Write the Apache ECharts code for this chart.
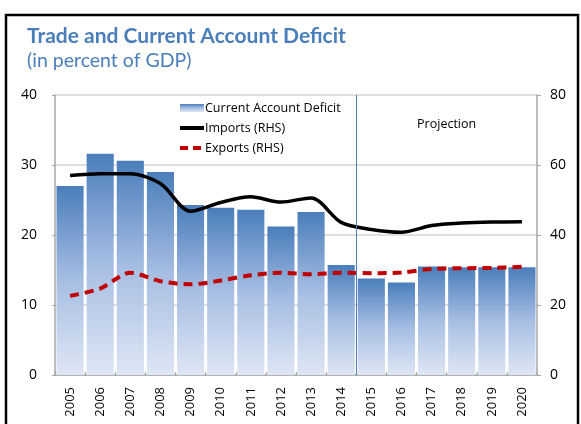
<!DOCTYPE html>
<html>
<head>
<meta charset="utf-8">
<script src="https://cdn.jsdelivr.net/npm/echarts@6/dist/echarts.min.js"></script>
<style>
  html, body { margin: 0; padding: 0; background: #fff; }
  #chart { width: 581px; height: 424px; }
</style>
</head>
<body>
<div id="chart"></div>
<script>
// data
const years = ['2005', '2006', '2007', '2008', '2009', '2010', '2011', '2012',
  '2013', '2014', '2015', '2016', '2017', '2018', '2019', '2020'];
const currentAccountDeficit = [27.0, 31.6, 30.6, 29.0, 24.3, 23.9, 23.6, 21.2,
  23.3, 15.7, 13.8, 13.2, 15.5, 15.4, 15.4, 15.4];
const importsRHS = [57.0, 57.5, 57.5, 54.7, 46.8, 49.3, 50.9, 49.4,
  50.6, 43.6, 41.6, 40.8, 42.7, 43.4, 43.7, 43.8];
const exportsRHS = [22.6, 24.7, 29.2, 26.8, 25.9, 27.0, 28.5, 29.2,
  28.8, 29.2, 29.1, 29.3, 30.3, 30.5, 30.6, 30.9];
const projectionFrom = '2015';
const projectionTo = '2020';

const font = '"Open Sans", "Noto Sans", sans-serif';
const titleColor = '#4a7ebb';

const chart = echarts.init(document.getElementById('chart'), null, { renderer: 'canvas' });

const barGradient = new echarts.graphic.LinearGradient(0, 0, 0, 1, [
  { offset: 0, color: '#4a7ebb' },
  { offset: 0.5, color: '#a7bee3' },
  { offset: 1, color: '#dee6f4' }
]);

// boundary between actual and projected years, in category units
const splitAt = years.indexOf(projectionFrom);

const option = {
  animation: false,
  backgroundColor: '#fff',
  graphic: [
    {
      type: 'rect',
      shape: { x: 6, y: 15, width: 572, height: 430 },
      style: { fill: 'none', stroke: '#000', lineWidth: 2.5 },
      silent: true
    }
  ],
  title: {
    text: 'Trade and Current Account Deficit',
    subtext: '(in percent of GDP)',
    left: 22,
    top: 21,
    itemGap: 4,
    textStyle: { fontFamily: 'Lato, sans-serif', fontWeight: 'bold', fontSize: 21, color: titleColor },
    subtextStyle: { fontFamily: 'Lato, sans-serif', fontSize: 19.5, color: titleColor }
  },
  legend: {
    orient: 'vertical',
    left: 178,
    top: 101,
    padding: 0,
    itemGap: 6,
    itemWidth: 24,
    itemHeight: 8,
    textStyle: { fontFamily: font, fontSize: 12.5, lineHeight: 14, color: '#000', padding: [0, 0, 0, -4] },
    data: [
      { name: 'Current Account Deficit', icon: 'rect' },
      { name: 'Imports (RHS)', itemStyle: { opacity: 0 }, lineStyle: { width: 4 } },
      { name: 'Exports (RHS)', itemStyle: { opacity: 0 }, lineStyle: { width: 4, type: [8, 5] } }
    ]
  },
  grid: { left: 55, right: 44, top: 95, bottom: 49 },
  xAxis: [
    {
      type: 'category',
      data: years,
      boundaryGap: true,
      axisLine: { lineStyle: { color: '#a6a6a6', width: 1.5 } },
      axisTick: { show: true, inside: true, length: 3, lineStyle: { color: '#a6a6a6' } },
      axisLabel: { rotate: 90, margin: 12, fontFamily: font, fontSize: 13, color: '#000' },
      splitLine: { show: false }
    },
    {
      // hidden helper axis spanning the category bands, used for the divider line
      type: 'value',
      min: 0,
      max: years.length,
      show: false
    }
  ],
  yAxis: [
    {
      type: 'value',
      min: 0, max: 40, interval: 10,
      axisLine: { show: true, lineStyle: { color: '#a6a6a6', width: 1.5 } },
      axisTick: { show: true, length: 3, lineStyle: { color: '#a6a6a6' } },
      axisLabel: { margin: 18, fontFamily: font, fontSize: 14, color: '#000' },
      splitLine: { lineStyle: { color: '#d4d4d4', width: 1.5 } }
    },
    {
      type: 'value',
      min: 0, max: 80, interval: 20,
      axisLine: { show: true, lineStyle: { color: '#a6a6a6', width: 1.5 } },
      axisTick: { show: true, length: 4, lineStyle: { color: '#a6a6a6' } },
      axisLabel: { margin: 13, fontFamily: font, fontSize: 14, color: '#000' },
      splitLine: { show: false }
    }
  ],
  series: [
    {
      name: 'Current Account Deficit',
      type: 'bar',
      data: currentAccountDeficit,
      barCategoryGap: '10%',
      itemStyle: { color: barGradient },
      markArea: {
        silent: true,
        itemStyle: { color: 'rgba(0,0,0,0)' },
        label: {
          show: true,
          position: 'insideTop',
          distance: 23,
          fontFamily: font,
          fontSize: 12.5,
          color: '#000'
        },
        data: [[{ name: 'Projection', xAxis: projectionFrom, yAxis: 40 }, { xAxis: projectionTo, yAxis: 0 }]]
      }
    },
    {
      name: 'Imports (RHS)',
      type: 'line',
      yAxisIndex: 1,
      data: importsRHS,
      smooth: 0.3,
      symbol: 'none',
      lineStyle: { color: '#000', width: 3.5 },
      itemStyle: { color: '#000' }
    },
    {
      name: 'Exports (RHS)',
      type: 'line',
      yAxisIndex: 1,
      data: exportsRHS,
      smooth: 0.3,
      symbol: 'none',
      lineStyle: { color: '#c00000', width: 4, type: [9, 6] },
      itemStyle: { color: '#c00000' }
    },
    {
      name: 'divider',
      type: 'line',
      xAxisIndex: 1,
      yAxisIndex: 0,
      data: [],
      silent: true,
      markLine: {
        silent: true,
        symbol: 'none',
        label: { show: false },
        lineStyle: { color: '#4a7ebb', width: 1, type: 'solid' },
        data: [[{ coord: [splitAt, 0] }, { coord: [splitAt, 40] }]]
      }
    }
  ]
};

chart.setOption(option);
</script>
</body>
</html>
